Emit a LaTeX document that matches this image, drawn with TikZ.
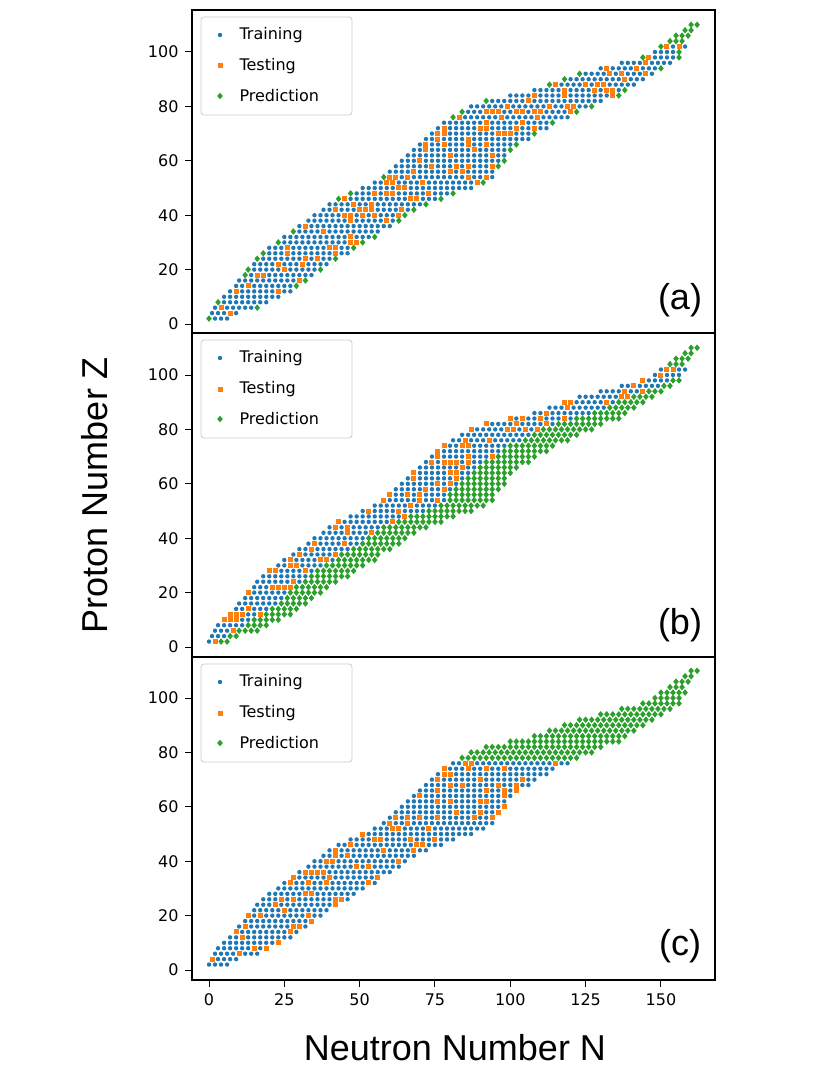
\documentclass[tikz,border=0pt]{standalone}
\usepackage{fontspec}
\setmainfont{DejaVu Sans}
\newfontfamily\arialf{Liberation Sans}
\definecolor{cB}{HTML}{1F77B4}
\definecolor{cO}{HTML}{FF7F0E}
\definecolor{cG}{HTML}{2CA02C}
\def\zlist{2/0/6,4/1/10,6/2/16,8/3/20,10/5/24,12/7/27,14/9/30,16/10/33,18/12/35,20/13/38,22/15/40,24/16/43,26/18/46,28/20/49,30/23/52,32/25/55,34/28/57,36/30/60,38/33/63,40/35/65,42/38/68,44/40/72,46/43/77,48/47/82,50/51/88,52/55/92,54/58/94,56/60/95,58/62/97,60/64/98,62/66/99,64/68/100,66/70/103,68/72/106,70/74/109,72/76/112,74/78/115,76/81/119,78/84/123,80/87/127,82/92/131,84/100/136,86/108/139,88/113/142,90/118/145,92/123/148,94/130/151,96/137/154,98/144/156,100/148/157,102/150/158,104/153/158,106/155/159,108/158/160,110/160/162}
\newcommand\mypanel[2]{%
 \pgfmathsetseed{#2*17+3}%
 \foreach \z/\lo/\hi in \zlist {%
  \pgfmathtruncatemacro\nn{\lo+2}%
  \foreach \n in {\lo,\nn,...,\hi}{%
    \pgfmathsetmacro\px{209+3.013*\n}%
    \pgfmathsetmacro\py{#1-2.72*\z}%
    \pgfmathsetmacro\rr{rnd}%
    \ifcase#2
      \pgfmathtruncatemacro\cls{(\z>=104) ? 2 : (((\n==\lo) || (\n+2>\hi)) && (\rr<0.45) ? 2 : (\rr<0.2 ? 1 : 0))}%
    \or
      \pgfmathtruncatemacro\cls{((\z>=104) || (\n>=(\lo+\hi)/2+\z/25)) ? 2 : (\rr<0.18 ? 1 : 0)}%
    \or
      \pgfmathtruncatemacro\cls{(\z>=78) ? 2 : (\rr<0.18 ? 1 : 0)}%
    \fi
    \ifcase\cls
      \fill[cB] (\px,\py) circle (2.2);
    \or
      \fill[cO] (\px-2.5,\py-2.5) rectangle (\px+2.5,\py+2.5);
    \or
      \fill[cG] (\px,\py-3.3) -- (\px+2.8,\py) -- (\px,\py+3.3) -- (\px-2.8,\py) -- cycle;
    \fi
  }}}
\newcommand\myaxes[3]{% top, bottom, y0
  \draw[line width=1.6pt] (192,#1) rectangle (715,#2);
  \foreach \v in {0,20,...,100}{
    \pgfmathsetmacro\yy{#3-2.72*\v}
    \draw[line width=1pt] (192,\yy) -- (185,\yy);
    \node[anchor=east,font=\fontsize{16}{18}\selectfont] at (182,\yy) {\v};
  }}
\newcommand\mylegend[1]{% top y
  \draw[gray!40,fill=white,fill opacity=0.85,rounded corners=3pt,line width=0.8pt] (201,#1) rectangle (352,#1+98);
  \fill[cB] (220,#1+18) circle (2.2);
  \fill[cO] (217.5,#1+46.5) rectangle (222.5,#1+51.5);
  \fill[cG] (220,#1+75.7) -- (222.8,#1+79) -- (220,#1+82.3) -- (217.2,#1+79) -- cycle;
  \node[anchor=west,font=\fontsize{16}{18}\selectfont] at (236,#1+18) {Training};
  \node[anchor=west,font=\fontsize{16}{18}\selectfont] at (236,#1+49) {Testing};
  \node[anchor=west,font=\fontsize{16}{18}\selectfont] at (236,#1+79) {Prediction};
}
\begin{document}
\begin{tikzpicture}[x=1pt,y=-1pt]
\useasboundingbox (0,0) rectangle (830,1075);
\fill[white] (0,0) rectangle (830,1075);
\mypanel{324}{0}
\mypanel{647}{1}
\mypanel{970}{2}
\myaxes{10}{333}{324}
\myaxes{333}{657}{647}
\myaxes{657}{980}{970}
\mylegend{17}
\mylegend{340}
\mylegend{664}
\node[font=\arialf\fontsize{36}{40}\selectfont] (la) at (680,300) {(a)};
\node[font=\arialf\fontsize{36}{40}\selectfont] (lb) at (680,625) {(b)};
\node[font=\arialf\fontsize{36}{40}\selectfont] (lc) at (680,946) {(c)};
\foreach \v in {0,25,...,150}{
  \pgfmathsetmacro\xx{209+3.013*\v}
  \draw[line width=1pt] (\xx,980) -- (\xx,987);
  \node[anchor=north,font=\fontsize{16}{18}\selectfont] at (\xx,990) {\v};
}
\node[font=\arialf\fontsize{36}{40}\selectfont] (xl) at (455,1048) {Neutron Number N};
\node[font=\arialf\fontsize{36}{40}\selectfont,rotate=90] (yl) at (95,495) {Proton Number Z};
\end{tikzpicture}
\end{document}
